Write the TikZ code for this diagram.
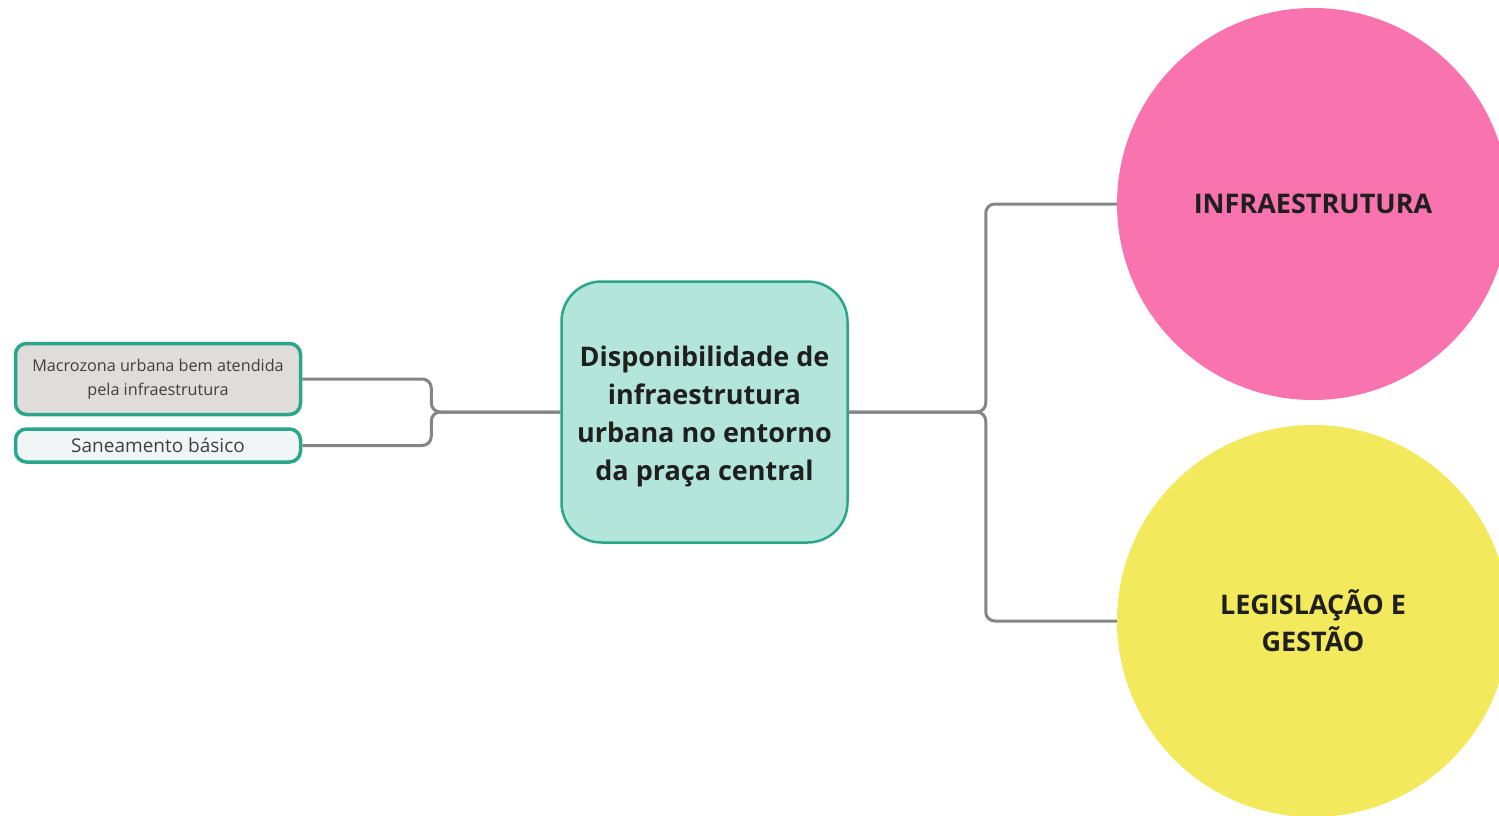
\documentclass[tikz,border=0pt]{standalone}
\usepackage{fontspec}
\setmainfont{Open Sans}
\definecolor{teal1}{HTML}{2AA68A}
\definecolor{mint}{HTML}{B3E5DA}
\definecolor{greybox}{HTML}{E0DCDA}
\definecolor{paleblue}{HTML}{F0F5F5}
\definecolor{linkgrey}{HTML}{858585}
\definecolor{pinkc}{HTML}{F973AE}
\definecolor{yellowc}{HTML}{F2E95C}
\begin{document}
\begin{tikzpicture}[x=1pt, y=-1pt,
    link/.style={draw=linkgrey, line width=3pt, rounded corners=9pt},
    leaf/.style={draw=teal1, line width=3.5pt, rounded corners=11pt, minimum width=285pt,
      align=center, text=black!75, inner sep=0pt},
    topic/.style={circle, minimum size=392pt, inner sep=0pt, align=center,
      font=\fontsize{27}{37}\selectfont\bfseries, text=black!88}]
    % Page
    \useasboundingbox (0,0) rectangle (1499,816);
    \fill[white] (0,0) rectangle (1499,816);
    \clip (0,0) rectangle (1499,816);

    % Central node
    \node[draw=teal1, fill=mint, line width=2.5pt, rounded corners=40pt,
      minimum width=286pt, minimum height=261pt, align=center, inner sep=0pt,
      font=\fontsize{27}{38}\selectfont\bfseries, text=black!88]
      (centro) at (704.5,412) {\\[-8pt]Disponibilidade de\\infraestrutura\\urbana no entorno\\da praça central};

    % Left leaves
    \node[leaf, fill=greybox, minimum height=71pt, font=\fontsize{16.2}{24}\selectfont]
      (macro) at (158,379) {Macrozona urbana bem atendida\\pela infraestrutura};
    \node[leaf, fill=paleblue, minimum height=33pt, font=\fontsize{19}{24}\selectfont]
      (sanea) at (158,445.5) {Saneamento básico};

    % Right topics
    \node[topic, fill=pinkc] (infra) at (1313,204) {INFRAESTRUTURA};
    \node[topic, fill=yellowc] (legis) at (1313,621) {LEGISLAÇÃO E\\GESTÃO};

    % Junctions
    \coordinate (lj) at ([xshift=-129pt]centro.west);
    \coordinate (rj) at ([xshift=137pt]centro.east);

    % Connectors
    \draw[link] (macro.east) -| (lj) -- (centro.west);
    \draw[link] (sanea.east) -| (lj) -- (centro.west);
    \draw[link] (centro.east) -- (rj) |- (infra.west);
    \draw[link] (centro.east) -- (rj) |- (legis.west);
\end{tikzpicture}
\end{document}
